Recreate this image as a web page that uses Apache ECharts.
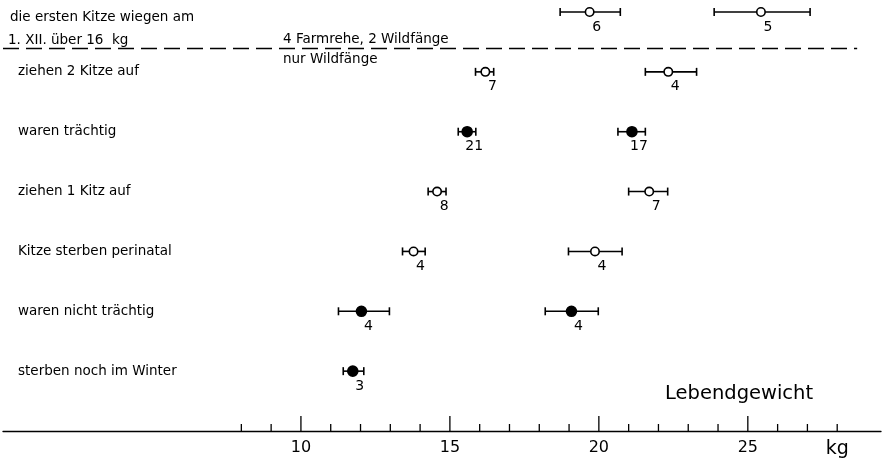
<!DOCTYPE html>
<html><head><meta charset="utf-8">
<script src="https://cdn.jsdelivr.net/npm/echarts@6/dist/echarts.min.js"></script>
<style>html,body{margin:0;padding:0;background:#fff}#c{width:884px;height:463px}</style>
</head><body><div id="c"></div>
<script>
var rowNames = ["die ersten Kitze wiegen am", "ziehen 2 Kitze auf", "waren trächtig", "ziehen 1 Kitz auf", "Kitze sterben perinatal", "waren nicht trächtig", "sterben noch im Winter"];
var filledRows = [false, false, true, false, false, true, true];
var groupAMean = [19.69, 16.19, 15.58, 14.57, 13.78, 12.03, 11.74];
var groupALow  = [18.70, 15.86, 15.28, 14.27, 13.41, 11.26, 11.42];
var groupAHigh = [20.72, 16.47, 15.87, 14.87, 14.17, 12.97, 12.11];
var groupAN    = [6, 7, 21, 8, 4, 4, 3];
var groupBMean = [25.44, 22.33, 21.11, 21.69, 19.87, 19.08];
var groupBLow  = [23.87, 21.56, 20.64, 21.00, 18.98, 18.20];
var groupBHigh = [27.09, 23.28, 21.56, 22.31, 20.78, 19.98];
var groupBN    = [5, 4, 17, 7, 4, 4];
var tickValues = [8,9,10,11,12,13,14,15,16,17,18,19,20,21,22,23,24,25,26,27,28];
var tickLabels = {10: "10", 15: "15", 20: "20", 25: "25", 28: "kg"};
var dividerRow = 0.6;
var dividerEnd = 28.67;

var FONT = "DejaVu Sans";
function buildData(mean, low, high, n) {
  return mean.map(function (m, i) { return [m, i, low[i], high[i], n[i], filledRows[i] ? 1 : 0]; });
}
function renderBar(params, api) {
  var y = api.value(1);
  var p = api.coord([api.value(0), y]);
  var lo = api.coord([api.value(2), y]);
  var hi = api.coord([api.value(3), y]);
  var filled = api.value(5) === 1;
  var st = {stroke: '#000', lineWidth: 1.6};
  return {type: 'group', children: [
    {type: 'line', shape: {x1: lo[0], y1: p[1], x2: hi[0], y2: p[1]}, style: st},
    {type: 'line', shape: {x1: lo[0], y1: p[1] - 4, x2: lo[0], y2: p[1] + 4}, style: st},
    {type: 'line', shape: {x1: hi[0], y1: p[1] - 4, x2: hi[0], y2: p[1] + 4}, style: st},
    {type: 'circle', shape: {cx: p[0], cy: p[1], r: filled ? 5 : 4.2}, style: {fill: filled ? '#000' : '#fff', stroke: '#000', lineWidth: 1.6}},
    {type: 'text', x: p[0] + 7, y: p[1] + 15, style: {text: String(api.value(4)), font: '14px ' + FONT, fill: '#000', align: 'center', verticalAlign: 'middle'}}
  ]};
}
function renderTick(params, api) {
  var v = api.value(0);
  var p = api.coord([v, 7]);
  var len = (v % 5 === 0) ? 15 : 7;
  return {type: 'line', shape: {x1: p[0], y1: p[1], x2: p[0], y2: p[1] - len}, style: {stroke: '#000', lineWidth: 1.3}};
}

var chart = echarts.init(document.getElementById('c'));
chart.setOption({
  animation: false,
  backgroundColor: '#fff',
  grid: {left: 0, right: 0, top: 12, bottom: 32},
  xAxis: {
    type: 'value', min: 0, max: 29.47, interval: 1, position: 'bottom',
    axisLine: {onZero: false, lineStyle: {color: '#000', width: 1.3}},
    axisTick: {show: false},
    splitLine: {show: false},
    axisLabel: {
      margin: 9, color: '#000', fontFamily: FONT, fontSize: 16,
      formatter: function (v) { return v === 28 ? '{u|kg}' : (tickLabels[v] || ''); },
      rich: {u: {fontFamily: FONT, fontSize: 19, color: '#000'}}
    }
  },
  yAxis: {
    type: 'value', min: 0, max: 7, interval: 1, inverse: true,
    axisLine: {show: false}, axisTick: {show: false}, splitLine: {show: false},
    axisLabel: {
      inside: true, margin: 15, color: '#000', fontFamily: FONT, fontSize: 13.5,
      formatter: function (v) { return (v >= 1 && v <= 6) ? rowNames[v] : ''; }
    }
  },
  graphic: [
    {type: 'text', left: 10, top: 10, style: {text: rowNames[0], font: '13.5px ' + FONT, fill: '#000'}},
    {type: 'text', left: 8, top: 33, style: {text: '1. XII. über 16  kg', font: '13.5px ' + FONT, fill: '#000'}},
    {type: 'text', left: 283, top: 32, style: {text: '4 Farmrehe, 2 Wildfänge', font: '13.5px ' + FONT, fill: '#000'}},
    {type: 'text', left: 283, top: 52, style: {text: 'nur Wildfänge', font: '13.5px ' + FONT, fill: '#000'}},
    {type: 'text', left: 665, top: 384, style: {text: 'Lebendgewicht', font: '19.5px ' + FONT, fill: '#000'}}
  ],
  series: [
    {type: 'custom', name: 'A', renderItem: renderBar, data: buildData(groupAMean, groupALow, groupAHigh, groupAN), silent: true,
     markLine: {silent: true, symbol: 'none', label: {show: false},
       lineStyle: {color: '#000', type: [16, 7], width: 1.3},
       data: [[{coord: [0, dividerRow]}, {coord: [dividerEnd, dividerRow]}]]}},
    {type: 'custom', name: 'B', renderItem: renderBar, data: buildData(groupBMean, groupBLow, groupBHigh, groupBN), silent: true},
    {type: 'custom', name: 'ticks', renderItem: renderTick, data: tickValues.map(function (v) { return [v]; }), silent: true}
  ]
});
</script></body></html>
